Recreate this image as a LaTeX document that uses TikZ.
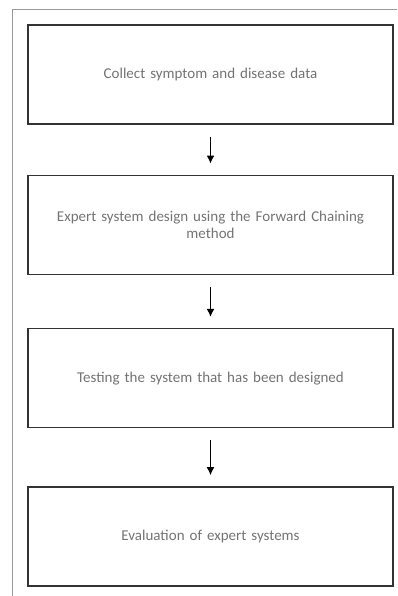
\documentclass[tikz,border=0pt]{standalone}
\usepackage{fontspec}
\setmainfont{Carlito}
\usetikzlibrary{arrows.meta,positioning}

\begin{document}
\begin{tikzpicture}[->,>={Latex[length=8pt,width=8pt]},x=1pt,y=1pt,node distance=50pt,
    stepbox/.style={draw=black!80,line width=1.3pt,minimum width=365pt,
      minimum height=99pt,text width=340pt,align=center,text=black!55,
      font=\fontsize{15}{17}\selectfont},
    flow/.style={line width=1.7pt,shorten <=12pt,shorten >=11pt}]

  \useasboundingbox (0,0) rectangle (397,596);
  \draw[-,black!40,line width=0.8pt] (12,0) -- (12,587) -- (397,587);

  \node[stepbox] (collect) at (210.5,521.5) {Collect symptom and disease data};
  \node[stepbox] (design) [below=of collect] {Expert system design using the Forward Chaining\\method};
  \node[stepbox] (testing) [below=53pt of design] {Testing the system that has been designed};
  \node[stepbox] (eval) [below=58pt of testing] {Evaluation of expert systems};

  \draw[flow]
  (collect) edge (design)
  (design) edge (testing)
  (testing) edge (eval);

\end{tikzpicture}
\end{document}
